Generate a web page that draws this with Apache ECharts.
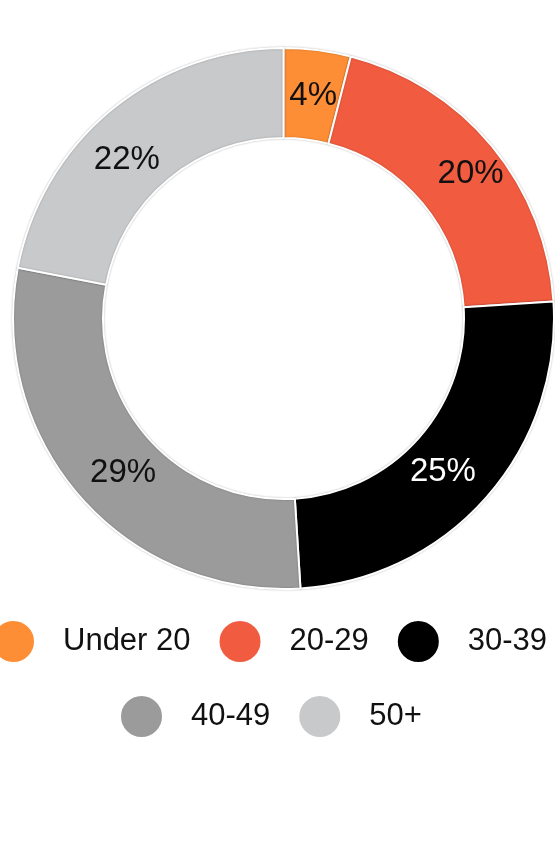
<!DOCTYPE html>
<html>
<head>
<meta charset="utf-8">
<script src="https://cdn.jsdelivr.net/npm/echarts@6/dist/echarts.min.js"></script>
<style>
  html, body { margin: 0; padding: 0; background: #fff; }
  #chart { width: 555px; height: 860px; }
</style>
</head>
<body>
<div id="chart"></div>
<script>
// age groups and share of total (%)
var groups = ['Under 20', '20-29', '30-39', '40-49', '50+'];
var shares = [4, 20, 25, 29, 22];
var colors = ['#fd8e35', '#f15b40', '#000000', '#9b9b9b', '#c8c9cb'];
var labelColors = ['#111', '#111', '#fff', '#111', '#111'];
// small nudges so labels sit where the original put them
var labelNudge = [[1, 4], [11, 1], [-12, 2], [11, 3], [-11, 17]];

var font = 'Liberation Sans';

var pieData = groups.map(function(g, i) {
  return {
    name: g,
    value: shares[i],
    itemStyle: { color: colors[i] },
    label: { color: labelColors[i], offset: labelNudge[i] }
  };
});

var legendText = {
  fontFamily: font,
  fontSize: 31,
  color: '#111',
  padding: [0, 0, 0, 23]
};

var chart = echarts.init(document.getElementById('chart'), null, { renderer: 'canvas' });
chart.setOption({
  backgroundColor: '#fff',
  animation: false,
  legend: [{
    data: groups.slice(0, 3),
    orient: 'horizontal',
    left: -9,
    top: 619,
    width: 700,
    padding: 0,
    icon: 'circle',
    itemWidth: 43,
    itemHeight: 43,
    itemGap: 27,
    textStyle: legendText
  }, {
    data: groups.slice(3),
    orient: 'horizontal',
    left: 119,
    top: 694,
    width: 500,
    padding: 0,
    icon: 'circle',
    itemWidth: 43,
    itemHeight: 43,
    itemGap: 27,
    textStyle: legendText
  }],
  series: [{
    type: 'pie',
    center: [283.5, 318.5],
    radius: [180.5, 270.5],
    startAngle: 90,
    clockwise: true,
    avoidLabelOverlap: false,
    itemStyle: {
      borderColor: '#fff',
      borderWidth: 2,
      shadowBlur: 2,
      shadowColor: 'rgba(0,0,0,0.25)'
    },
    label: {
      show: true,
      position: 'inside',
      formatter: '{c}%',
      fontFamily: font,
      fontSize: 33
    },
    labelLine: { show: false },
    emphasis: { disabled: true },
    data: pieData
  }]
});
</script>
</body>
</html>
